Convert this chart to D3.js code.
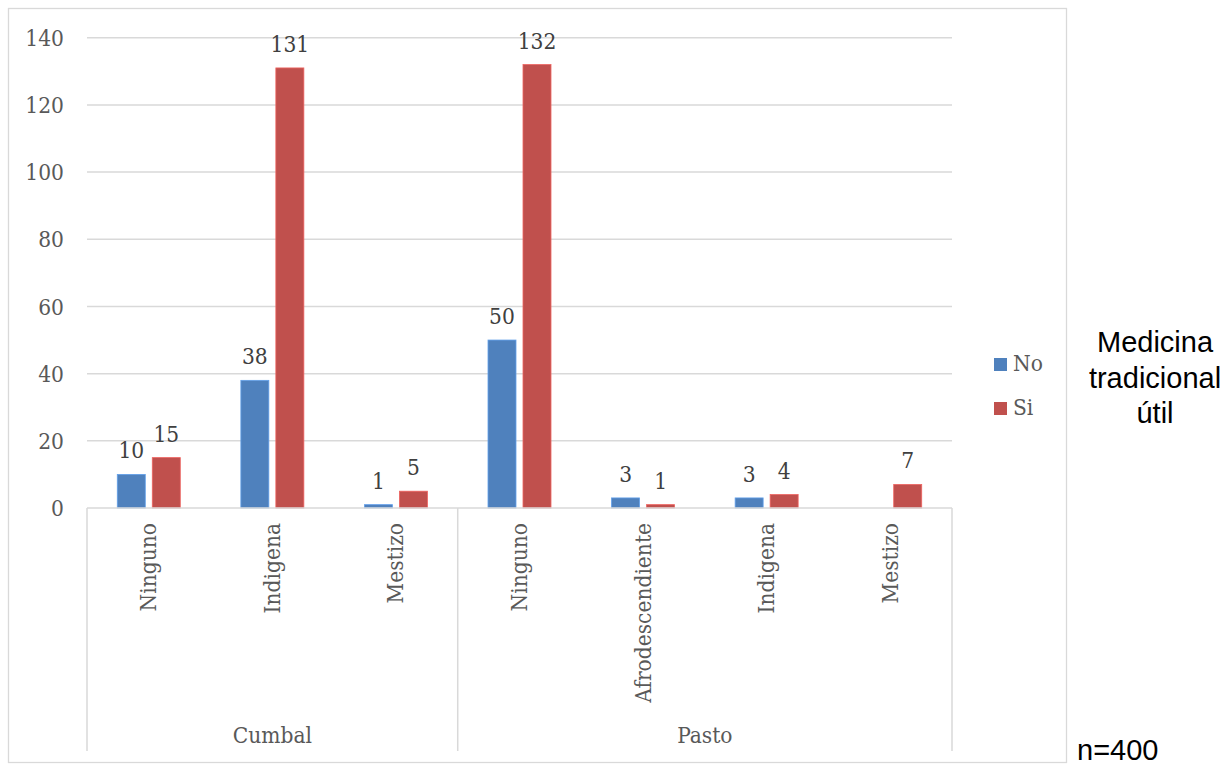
<!DOCTYPE html>
<html>
<head>
<meta charset="utf-8">
<script src="https://cdn.jsdelivr.net/npm/d3@7"></script>
<style>
  html, body { margin: 0; padding: 0; background: #ffffff; }
  svg { display: block; }
  .serif { font-family: "DejaVu Serif Condensed", "DejaVu Serif", serif; font-stretch: condensed; }
  .sans { font-family: "Liberation Sans", Arial, sans-serif; }
</style>
</head>
<body>
<svg id="chart" width="1225" height="765"></svg>
<script>
// Respondents by municipality and ethnic group, split by whether they find traditional medicine useful
const categories = ["Ninguno", "Indigena", "Mestizo", "Ninguno", "Afrodescendiente", "Indigena", "Mestizo"];
const categoryGroup = ["Cumbal", "Cumbal", "Cumbal", "Pasto", "Pasto", "Pasto", "Pasto"];
const groupNames = ["Cumbal", "Pasto"];
const seriesNames = ["No", "Si"];
const noValues = [10, 38, 1, 50, 3, 3, null];
const siValues = [15, 131, 5, 132, 1, 4, 7];
const yTicks = [0, 20, 40, 60, 80, 100, 120, 140];
const legendTitle = ["Medicina", "tradicional", "útil"];
const sampleNote = "n=400";

const colors = { No: "#4f81bd", Si: "#c0504d" };
const gridColor = "#d9d9d9";
const textColor = "#595959";
const fs = 22.5;

const svg = d3.select("#chart");

// outer chart frame
svg.append("rect")
  .attr("x", 8.5).attr("y", 8.5)
  .attr("width", 1058).attr("height", 754)
  .attr("fill", "#fff").attr("stroke", gridColor).attr("stroke-width", 1.3);

const plot = { left: 87, right: 952, top: 37.7, bottom: 508 };

const x = d3.scaleBand()
  .domain(d3.range(categories.length))
  .range([plot.left, plot.right])
  .paddingInner(0).paddingOuter(0);

const bw = x.bandwidth();
const barStep = 35, barGap = 7;
const inner = d3.scaleBand()
  .domain(seriesNames)
  .range([0, bw])
  .paddingInner(barGap / barStep)
  .paddingOuter((bw / barStep - (2 - barGap / barStep)) / 2);

const y = d3.scaleLinear().domain([0, 140]).range([plot.bottom, plot.top]);

// horizontal gridlines
svg.append("g")
  .selectAll("line")
  .data(yTicks.filter(d => d > 0))
  .join("line")
  .attr("x1", plot.left).attr("x2", plot.right)
  .attr("y1", d => y(d)).attr("y2", d => y(d))
  .attr("stroke", gridColor).attr("stroke-width", 1.5);

// y axis tick labels
svg.append("g")
  .selectAll("text")
  .data(yTicks)
  .join("text")
  .attr("class", "serif")
  .attr("x", 64)
  .attr("y", d => y(d))
  .attr("dy", "0.36em")
  .attr("text-anchor", "end")
  .attr("font-size", fs)
  .attr("fill", textColor)
  .text(d => d);

// bars
const rows = categories.map((c, i) => ({ i, No: noValues[i], Si: siValues[i] }));
const barData = [];
rows.forEach(r => seriesNames.forEach(s => {
  if (r[s] != null) barData.push({ i: r.i, s, v: r[s] });
}));

svg.append("g")
  .selectAll("rect")
  .data(barData)
  .join("rect")
  .attr("x", d => x(d.i) + inner(d.s))
  .attr("width", inner.bandwidth())
  .attr("y", d => y(d.v))
  .attr("height", d => y(0) - y(d.v))
  .attr("fill", d => colors[d.s])
  .attr("stroke", d => d3.color(colors[d.s]).brighter(0.6))
  .attr("stroke-width", 0.8);

// value labels
svg.append("g")
  .selectAll("text")
  .data(barData)
  .join("text")
  .attr("class", "serif")
  .attr("x", d => x(d.i) + inner(d.s) + inner.bandwidth() / 2)
  .attr("y", d => y(d.v) - 16)
  .attr("text-anchor", "middle")
  .attr("font-size", fs)
  .attr("fill", "#404040")
  .text(d => d.v);

// category axis: baseline and dividers
const axisG = svg.append("g");
axisG.append("line")
  .attr("x1", plot.left).attr("x2", plot.right)
  .attr("y1", y(0)).attr("y2", y(0))
  .attr("stroke", gridColor).attr("stroke-width", 1.5);

const groupBounds = groupNames.map(g => {
  const idx = d3.range(categories.length).filter(i => categoryGroup[i] === g);
  return { g, x0: x(d3.min(idx)), x1: x(d3.max(idx)) + bw };
});
const dividers = [plot.left].concat(groupBounds.map(b => b.x1));
axisG.selectAll("line.div")
  .data(dividers)
  .join("line")
  .attr("class", "div")
  .attr("x1", d => d).attr("x2", d => d)
  .attr("y1", y(0)).attr("y2", 751)
  .attr("stroke", gridColor).attr("stroke-width", 1.5);

// rotated category labels
axisG.selectAll("text.cat")
  .data(categories)
  .join("text")
  .attr("class", "cat serif")
  .attr("transform", (d, i) => `translate(${x(i) + bw / 2 + 7.5},523) rotate(-90)`)
  .attr("text-anchor", "end")
  .attr("font-size", fs)
  .attr("fill", textColor)
  .text(d => d);

// group labels
axisG.selectAll("text.grp")
  .data(groupBounds)
  .join("text")
  .attr("class", "grp serif")
  .attr("x", d => (d.x0 + d.x1) / 2)
  .attr("y", 743)
  .attr("text-anchor", "middle")
  .attr("font-size", fs)
  .attr("fill", textColor)
  .text(d => d.g);

// legend
const legend = svg.append("g");
seriesNames.forEach((s, k) => {
  const ly = 358 + k * 44;
  legend.append("rect")
    .attr("x", 994).attr("y", ly)
    .attr("width", 13).attr("height", 13)
    .attr("fill", colors[s]);
  legend.append("text")
    .attr("class", "serif")
    .attr("x", 1013).attr("y", ly + 13)
    .attr("font-size", fs)
    .attr("fill", textColor)
    .text(s);
});

// legend title outside the frame
svg.append("text")
  .attr("class", "sans")
  .attr("x", 1155)
  .attr("font-size", 29)
  .attr("fill", "#000")
  .attr("text-anchor", "middle")
  .selectAll("tspan")
  .data(legendTitle)
  .join("tspan")
  .attr("x", 1155)
  .attr("y", (d, i) => 352 + i * 35.5)
  .text(d => d);

// sample size note
svg.append("text")
  .attr("class", "sans")
  .attr("x", 1077).attr("y", 760)
  .attr("font-size", 29)
  .attr("fill", "#000")
  .text(sampleNote);
</script>
</body>
</html>
